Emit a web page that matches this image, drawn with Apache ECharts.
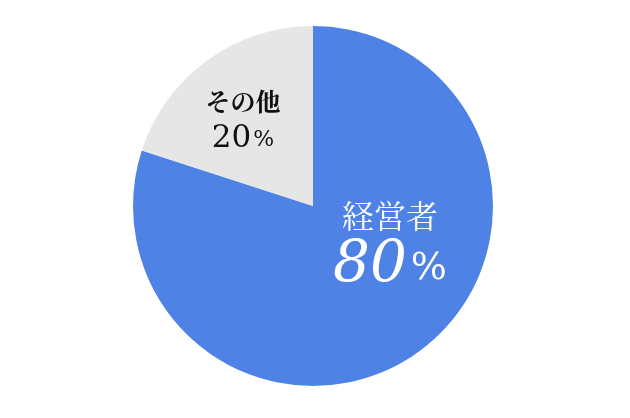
<!DOCTYPE html>
<html><head><meta charset="utf-8">
<script src="https://cdn.jsdelivr.net/npm/echarts@6/dist/echarts.min.js"></script>
<style>html,body{margin:0;padding:0;background:#fff}#c{width:630px;height:418px}</style>
</head><body><div id="c"></div>
<script>
const categories = ['経営者', 'その他'];
const values = [80, 20];
const colors = ['#4f82e5', '#e6e6e6'];
const labelPos = [[390, 243], [243, 120]];

const chart = echarts.init(document.getElementById('c'), null, {renderer: 'canvas'});
const cjk = '"Noto Serif CJK JP","Noto Sans CJK JP",serif';
const serif = '"DejaVu Serif","Liberation Serif",serif';
chart.setOption({
  animation: false,
  series: [{
    type: 'pie',
    center: [313, 206],
    radius: [0, 180],
    startAngle: 90,
    clockwise: true,
    silent: true,
    labelLine: {show: false},
    data: categories.map((n, i) => ({
      name: n, value: values[i],
      itemStyle: {color: colors[i]},
      label: i === 0 ? {
        formatter: '{a|{b}}\n{n|{c}}{p|%}',
        rich: {
          a: {color: '#fff', fontFamily: cjk, fontSize: 32, lineHeight: 46},
          n: {color: '#fff', fontFamily: serif, fontStyle: 'italic', fontSize: 58, lineHeight: 54},
          p: {color: '#fff', fontFamily: serif, fontSize: 38, lineHeight: 54, padding: [6, 0, 0, 4]}
        }
      } : {
        formatter: '{a|{b}}\n{n|{c}}{p|%}',
        rich: {
          a: {color: '#111', fontFamily: cjk, fontSize: 25, lineHeight: 37, fontWeight: 'bold'},
          n: {color: '#111', fontFamily: serif, fontSize: 31, lineHeight: 37},
          p: {color: '#111', fontFamily: serif, fontSize: 22, lineHeight: 37, padding: [3, 0, 0, 2]}
        }
      }
    })),
    label: {show: true, position: 'inside', align: 'center', verticalAlign: 'middle'},
    labelLayout: function (p) {
      return {x: labelPos[p.dataIndex][0], y: labelPos[p.dataIndex][1], align: 'center', verticalAlign: 'middle'};
    }
  }]
});
</script></body></html>
